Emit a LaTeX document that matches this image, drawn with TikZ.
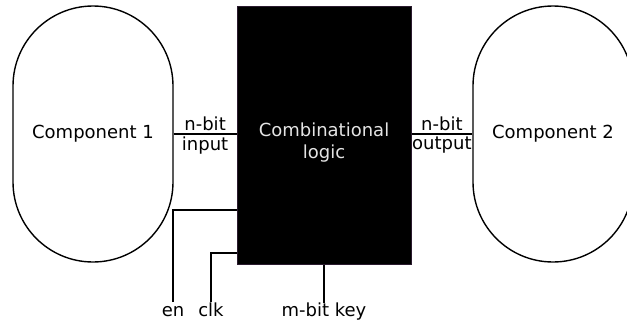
\documentclass[tikz,border=0pt]{standalone}
\usepackage{fontspec}
\setmainfont{DejaVu Sans}
\usepackage{tikz}
\usetikzlibrary{positioning, calc}
\definecolor{logicfg}{HTML}{E4E4E4}
\definecolor{logicedge}{HTML}{2A1A2E}

\tikzset{
  component/.style={draw, line width=1.4pt, rounded corners=80pt,
    minimum width=160pt, minimum height=256pt, inner sep=0pt},
  logicbox/.style={fill=black, draw=logicedge, line width=1pt,
    minimum width=174pt, minimum height=258pt, inner sep=0pt},
  wire/.style={line width=1.6pt},
  buslabel/.style={inner sep=2pt},
  pinlabel/.style={inner sep=2pt, text height=12pt, text depth=3pt, anchor=north},
}

\begin{document}
\begin{tikzpicture}[x=1pt, y=-1pt, font=\fontsize{18}{22}\selectfont]
  \useasboundingbox (0,0) rectangle (627,325);

  % the two components and the logic block
  \node[component] (comp1) at (93,134) {Component 1};
  \node[logicbox] (logic) at (324,135) {};
  \node[text=logicfg, align=center] (logiclabel) at (324,143) {Combinational\\logic};
  \node[component] (comp2) at (553,134) {Component 2};

  % buses
  \draw[wire] (comp1.east) -- node[above, buslabel]{n-bit} node[below, buslabel]{input}
    (logic.west |- comp1.east);
  \draw[wire] (logic.east |- comp2.west) -- node[above, buslabel]{n-bit} node[below, buslabel]{output}
    (comp2.west);

  % control inputs
  \node[pinlabel] (en) at (173,302) {en};
  \node[pinlabel] (clk) at (211,302) {clk};
  \node[pinlabel, below=38pt of logic.south] (key) {m-bit key};

  \draw[wire] (en.north) |- ([yshift=-75pt]logic.west);
  \draw[wire] (clk.north) |- ([yshift=-118pt]logic.west);
  \draw[wire] (logic.south) -- (key.north);
\end{tikzpicture}
\end{document}
